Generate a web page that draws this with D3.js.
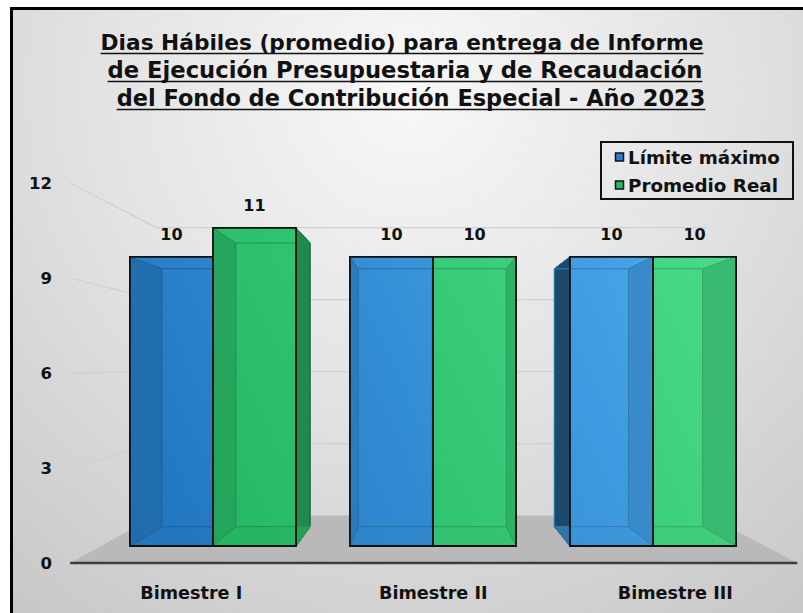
<!DOCTYPE html>
<html>
<head>
<meta charset="utf-8">
<script src="https://cdn.jsdelivr.net/npm/d3@7"></script>
<style>
  body { margin: 0; background: #fff; }
  svg { display: block; }
  text { font-family: "DejaVu Sans", "Lato", sans-serif; font-weight: 700; fill: #111; }
</style>
</head>
<body>
<svg id="chart" width="803" height="613"></svg>
<script>
// data
const categories = ["Bimestre I", "Bimestre II", "Bimestre III"]
const seriesNames = ["Límite máximo", "Promedio Real"]
const limiteMaximo = [10, 10, 10]
const promedioReal = [11, 10, 10]
const yTicks = [0, 3, 6, 9, 12]
const titleLines = [
  "Dias Hábiles (promedio) para entrega de Informe",
  "de Ejecución Presupuestaria y de Recaudación",
  "del Fondo de Contribución Especial - Año 2023"
]
const seriesValues = [limiteMaximo, promedioReal]

const svg = d3.select("#chart")
const defs = svg.append("defs")

// fit a text to a target width
const fitText = (t, size, width) => {
  t.style("font-size", size + "px")
  const w = t.node().getComputedTextLength()
  t.style("font-size", (size * width / w) + "px")
  return size * width / w
}

// background gradient
const bg = defs.append("radialGradient").attr("id", "bg")
  .attr("gradientUnits", "userSpaceOnUse")
  .attr("cx", 410).attr("cy", 90).attr("r", 720)
bg.append("stop").attr("offset", 0).attr("stop-color", "#f8f8f8")
bg.append("stop").attr("offset", 0.45).attr("stop-color", "#e2e2e2")
bg.append("stop").attr("offset", 1).attr("stop-color", "#c2c2c2")

// bar colours, lighter to the right
const baseColors = [["#1f74bd", "#4cabef"], ["#1fb25f", "#48db89"]]
baseColors.forEach((c, i) => {
  const g = defs.append("linearGradient").attr("id", "bar" + i)
    .attr("gradientUnits", "userSpaceOnUse")
    .attr("x1", 130).attr("y1", 546).attr("x2", 740).attr("y2", 250)
  g.append("stop").attr("offset", 0).attr("stop-color", c[0])
  g.append("stop").attr("offset", 1).attr("stop-color", c[1])
})
const legendColors = ["#2a80c9", "#27b866"]
const outerSide = [["#1f4f78", "#1d4a6b"], ["#1f8a4c", "#1f8048"]]

svg.append("rect").attr("x", 10).attr("y", 7).attr("width", 800).attr("height", 620)
  .attr("fill", "url(#bg)")

// perspective
const V = { x: 426, y: 367 }
const sFloor = 1.095, sWall = 0.83, sBack = 0.892
const proj = (x, yy, s) => [V.x + (x - V.x) * s, V.y + (yy - V.y) * s]

const y = d3.scaleLinear().domain([0, 12]).range([546, 199])
const x0 = d3.scaleBand().domain(categories).range([76, 790]).paddingInner(0.245).paddingOuter(0.245)
const x1 = d3.scaleBand().domain(seriesNames).range([0, x0.bandwidth()])
const wallL = 101, wallR = 765

const line = d3.line()

// floor
const floorPts = [proj(wallL, y(0), sFloor), proj(wallR, y(0), sFloor), proj(wallR, y(0), sWall), proj(wallL, y(0), sWall)]
svg.append("path").attr("d", line(floorPts) + "Z").attr("fill", "#b9b9b9")

// gridlines
svg.append("g").selectAll("path")
  .data(yTicks.filter(d => d > 0))
  .join("path")
  .attr("d", d => line([proj(wallL, y(d), sFloor), proj(wallL, y(d), sWall), proj(wallR, y(d), sWall)]))
  .attr("fill", "none").attr("stroke", "#d0d0d0").attr("stroke-width", 1.3)

// axis line
svg.append("path")
  .attr("d", line([proj(wallL, y(0), sFloor), proj(wallR, y(0), sFloor)]))
  .attr("stroke", "#3d3d3d").attr("stroke-width", 2.5)

// y labels
svg.append("g").selectAll("text")
  .data(yTicks)
  .join("text")
  .attr("x", 52)
  .attr("y", d => proj(wallL, y(d), sFloor)[1])
  .attr("text-anchor", "end").attr("dominant-baseline", "central")
  .style("font-size", "16.5px")
  .text(d => d)

// bars
const bars = []
categories.forEach((c, ci) => {
  seriesNames.forEach((sname, si) => {
    const xa = x0(c) + x1(sname)
    bars.push({ cat: c, si, value: seriesValues[si][ci], xa, xb: xa + x1.bandwidth() })
  })
})
// farthest from the vanishing point first
const order = bars.slice().sort((a, b) =>
  Math.abs((b.xa + b.xb) / 2 - V.x) - Math.abs((a.xa + a.xb) / 2 - V.x))

const gBars = svg.append("g")
order.forEach(b => {
  const yt = y(b.value), yb = y(0)
  const F = [[b.xa, yt], [b.xb, yt], [b.xb, yb], [b.xa, yb]]
  const B = F.map(p => proj(p[0], p[1], sBack))
  const t = ((b.xa + b.xb) / 2 - 130) / 606
  const mid = d3.interpolateRgb(baseColors[b.si][0], baseColors[b.si][1])(t * 0.8 + 0.1)
  const leftOfV = (b.xa + b.xb) / 2 < V.x
  const g = gBars.append("g")
  // outer side face
  const outer = leftOfV ? [F[1], B[1], B[2], F[2]] : [F[0], B[0], B[3], F[3]]
  const inner = leftOfV ? [F[0], B[0], B[3], F[3]] : [F[1], B[1], B[2], F[2]]
  g.append("path").attr("d", line(outer) + "Z")
    .attr("fill", outerSide[b.si][leftOfV ? 0 : 1]).attr("stroke", "#1a1a1a").attr("stroke-width", 1)
  // front face
  g.append("path").attr("d", line(F) + "Z").attr("fill", "url(#bar" + b.si + ")")
  // inner side and bottom seen through the front
  g.append("path").attr("d", line(inner) + "Z")
    .attr("fill", d3.color(mid).darker(b.si === 1 ? 0.45 : 0.4)).attr("fill-opacity", 0.85)
  g.append("path").attr("d", line([F[3], F[2], B[2], B[3]]) + "Z")
    .attr("fill", d3.color(mid).darker(0.15)).attr("fill-opacity", 0.6)
  // inner edges
  const edge = d3.color(mid).darker(0.7)
  g.append("path").attr("d", line(B) + "Z").attr("fill", "none").attr("stroke", edge).attr("stroke-width", 1)
  g.append("g").selectAll("path").data([0, 1, 2, 3]).join("path")
    .attr("d", i => line([F[i], B[i]])).attr("stroke", edge).attr("stroke-width", 1)
  // front outline
  g.append("path").attr("d", line(F) + "Z").attr("fill", "none").attr("stroke", "#111").attr("stroke-width", 1.8)
})

// data labels
svg.append("g").selectAll("text")
  .data(bars)
  .join("text")
  .attr("x", d => (d.xa + d.xb) / 2)
  .attr("y", d => y(d.value) - 22)
  .attr("text-anchor", "middle").attr("dominant-baseline", "central")
  .style("font-size", "16px")
  .text(d => d.value)

// category labels
const catLabels = svg.append("g").selectAll("text")
  .data(categories)
  .join("text")
  .attr("x", d => 430 + (x0(d) + x0.bandwidth() / 2 - 430) * 1.1)
  .attr("y", 593)
  .attr("text-anchor", "middle").attr("dominant-baseline", "central")
  .text(d => d)
const catSize = fitText(d3.select(catLabels.nodes()[0]), 16, 102)
catLabels.style("font-size", catSize + "px")

// title, each line fitted to its width in the reference
const titleY = [50, 78, 106]
const titleX = [402, 405, 411]
const titleW = [603, 595, 589]
titleLines.forEach((t, i) => {
  const tx = svg.append("text")
    .attr("x", titleX[i]).attr("y", titleY[i])
    .attr("text-anchor", "middle")
    .text(t)
  fitText(tx, 20, titleW[i])
  const bb = tx.node().getBBox()
  svg.append("line")
    .attr("x1", bb.x).attr("x2", bb.x + bb.width)
    .attr("y1", titleY[i] + 3.5).attr("y2", titleY[i] + 3.5)
    .attr("stroke", "#111").attr("stroke-width", 1.6)
})

// legend
const lg = svg.append("g")
lg.append("rect").attr("x", 601).attr("y", 142).attr("width", 192).attr("height", 57)
  .attr("fill", "none").attr("stroke", "#111").attr("stroke-width", 2)
const legTexts = []
seriesNames.forEach((s, i) => {
  lg.append("rect").attr("x", 615.5).attr("y", 153 + i * 28).attr("width", 8).attr("height", 8)
    .attr("fill", legendColors[i]).attr("stroke", "#111").attr("stroke-width", 1.5)
  legTexts.push(lg.append("text").attr("x", 628).attr("y", 157 + i * 28)
    .attr("dominant-baseline", "central")
    .text(s))
})
const legSize = fitText(legTexts[0], 16, 152)
legTexts.forEach(t => t.style("font-size", legSize + "px"))

// frame
svg.append("path").attr("d", "M11.5,613 V8.5 H803")
  .attr("fill", "none").attr("stroke", "#000").attr("stroke-width", 3)
</script>
</body>
</html>
